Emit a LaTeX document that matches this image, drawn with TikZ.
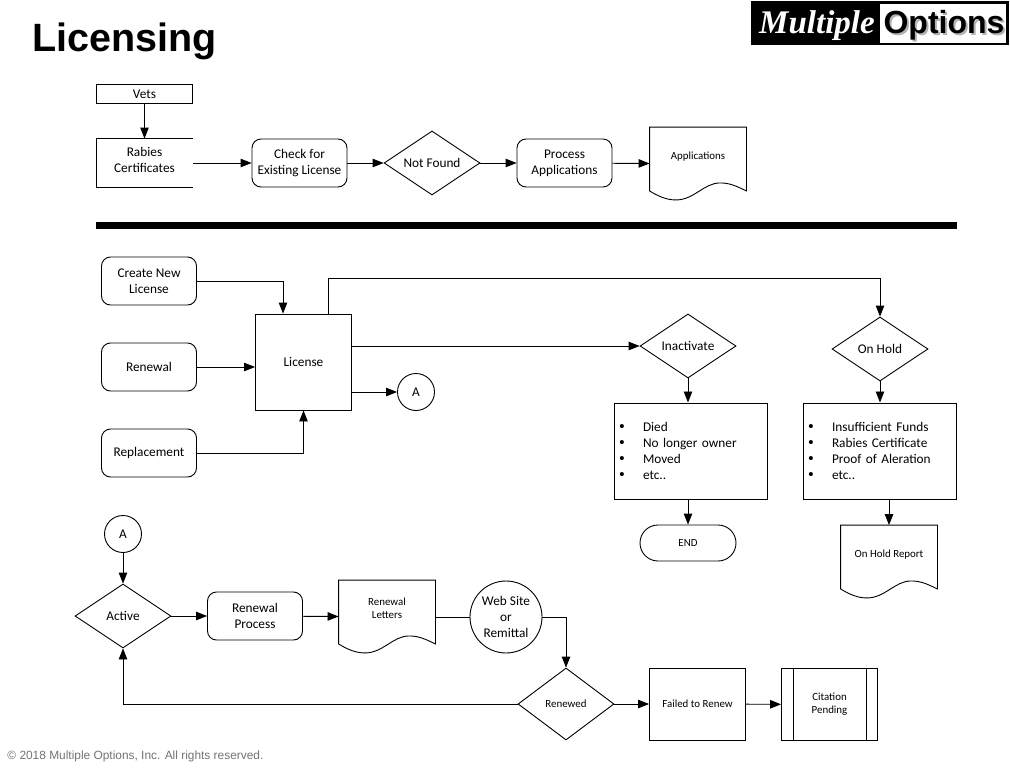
\documentclass[tikz,border=0pt]{standalone}
\usepackage{fontspec}
\setmainfont{Carlito}
\newfontfamily\arialfont{Liberation Sans}
\newfontfamily\timesfont{Liberation Serif}
\usetikzlibrary{positioning,shapes.geometric,arrows.meta}

\newcommand{\docoutline}[1]{\draw (#1.north west) -- (#1.north east) -- ([yshift=9pt]#1.south east) .. controls ([xshift=38pt,yshift=14pt]#1.south) and ([xshift=32pt,yshift=17pt]#1.south) .. ([xshift=22pt,yshift=17pt]#1.south) .. controls ([xshift=6pt,yshift=17pt]#1.south) and ([xshift=-4pt]#1.south) .. ([xshift=-22pt]#1.south) .. controls ([xshift=-32pt]#1.south) and ([xshift=-40pt,yshift=4pt]#1.south) .. ([yshift=9pt]#1.south west) -- cycle;}
\newcommand{\listdot}{\makebox[6pt][c]{\arialfont\fontsize{15}{16}\selectfont\smash{\textbullet}}\hspace{18pt}}

\begin{document}
\begin{tikzpicture}[x=1pt,y=-1pt,
	line width=0.9pt,
	arrowline/.style={-{Triangle[length=11pt,width=8.5pt]}},
	plainnode/.style={font=\fontsize{13.3}{16}\selectfont,align=center,inner sep=0pt},
	smallnode/.style={font=\fontsize{10.9}{13}\selectfont,align=center,inner sep=0pt},
	squarenode/.style={plainnode,draw,minimum width=96pt,minimum height=48pt},
	roundnode/.style={plainnode,draw,rounded corners=9pt,minimum width=95pt,minimum height=48pt},
	diamondnode/.style={plainnode,draw,diamond,aspect=1.5,minimum width=96pt,minimum height=64pt},
	circlenode/.style={plainnode,draw,circle,minimum size=37pt},
	listnode/.style={plainnode,draw,align=left,text width=143pt,inner xsep=5pt,minimum height=96pt,line width=1pt},
	docnode/.style={smallnode,minimum width=96pt,minimum height=72pt,text depth=16pt}]
	\useasboundingbox (0,0) rectangle (1010,768);

	\node[font=\arialfont\bfseries\fontsize{39.5}{40}\selectfont,inner sep=0pt,anchor=base west]	(title)	at (32,52)	{Licensing};
	\node[fill=black,minimum width=258pt,minimum height=44pt,inner sep=0pt]							(logo)	at (879.5,23.5)	{};
	\node[fill=white,minimum width=126pt,minimum height=39pt,inner sep=0pt]							(logow)	at (943,23.5)	{};
	\node[font=\timesfont\bfseries\itshape\fontsize{33}{33}\selectfont,text=white,inner sep=0pt]	(multiple)	at (817,25.5)	{Multiple};
	\node[font=\arialfont\bfseries\fontsize{32}{32}\selectfont,text=black!30,inner sep=0pt]			(optionss)	at (946,27)	{Options};
	\node[font=\arialfont\bfseries\fontsize{32}{32}\selectfont,inner sep=0pt]						(options)	at (944,25)	{Options};

	\node[squarenode,minimum height=19pt]		(vets)		at (144.5,94)	{Vets};
	\node[plainnode,minimum width=96pt,minimum height=48pt,text depth=6pt]	(rabies)	at (144.5,163)	{Rabies\\Certificates};
	\node[roundnode]							(check)		at (299.5,163)	{Check for\\Existing License};
	\node[diamondnode]							(notfound)	at (432,163)	{Not Found};
	\node[roundnode]							(process)	at (564.5,163)	{Process\\Applications};
	\node[docnode]								(apps)		at (698,163.5)	{Applications};
	\fill										(96,222) rectangle (957,229);

	\node[roundnode]							(create)	at (149,281)	{Create New\\License};
	\node[roundnode]							(renewal)	at (149,367)	{Renewal};
	\node[roundnode]							(replace)	at (149,453)	{Replacement};
	\node[squarenode,minimum height=96pt]		(license)	at (303.5,362)	{License};
	\node[circlenode]							(a1)		at (416,392)	{A};
	\node[diamondnode]							(inactive)	at (688,346)	{Inactivate};
	\node[diamondnode]							(onhold)	at (880,349)	{On Hold};
	\node[listnode]								(reasons)	at (690.5,451)	{\listdot Died\\\listdot No longer owner\\\listdot Moved\\\listdot etc..};
	\node[listnode]								(missing)	at (879.5,451)	{\listdot Insufficient Funds\\\listdot Rabies Certificate\\\listdot Proof of Aleration\\\listdot etc..};
	\node[smallnode,draw,rounded corners=18pt,minimum width=96pt,minimum height=36pt]	(end)	at (688,543)	{END};
	\node[docnode]								(report)	at (889,561.5)	{On Hold Report};

	\node[circlenode]							(a2)		at (123,534)	{A};
	\node[diamondnode]							(active)	at (123,616)	{Active};
	\node[roundnode]							(renproc)	at (255,616)	{Renewal\\Process};
	\node[docnode]								(letters)	at (387,616.5)	{Renewal\\Letters};
	\node[plainnode,draw,circle,minimum size=72pt]	(web)	at (506,617)	{Web Site\\or\\Remittal};
	\node[smallnode,draw,diamond,aspect=1.33,minimum width=96pt,minimum height=72pt]	(renewed)	at (566,704)	{Renewed};
	\node[smallnode,draw,minimum width=96pt,minimum height=72pt]	(failed)	at (697.5,704)	{Failed to Renew};
	\node[smallnode,draw,minimum width=96pt,minimum height=72pt]	(citation)	at (829.5,704.5)	{Citation\\Pending};

	\node[font=\arialfont\fontsize{11.9}{12}\selectfont,text=black!55,inner sep=0pt,anchor=base west]	(copyright)	at (7,759)	{© 2018 Multiple Options, Inc. All rights reserved.};

	\draw (rabies.north east) -- (rabies.north west) -- (rabies.south west) -- (rabies.south east);
	\docoutline{apps}
	\docoutline{report}
	\docoutline{letters}
	\draw ([xshift=12pt]citation.north west) -- ([xshift=12pt]citation.south west);
	\draw ([xshift=-12pt]citation.north east) -- ([xshift=-12pt]citation.south east);

	\draw[arrowline] (vets) -- (rabies);
	\draw[arrowline] (rabies) -- (check);
	\draw[arrowline] (check) -- (notfound);
	\draw[arrowline] (notfound) -- (process);
	\draw[arrowline] (process) -- (apps.west);
	\draw[arrowline] (create.east) -| ([xshift=-20.5pt]license.north);
	\draw[arrowline] (renewal.east) -- (renewal.east -| license.west);
	\draw[arrowline] (replace.east) -| (license.south);
	\draw[arrowline] (license.east |- inactive) -- (inactive.west);
	\draw[arrowline] ([xshift=24.5pt]license.north) -- ++(0,-35) -| (onhold.north);
	\draw[arrowline] (license.east |- a1) -- (a1.west);
	\draw[arrowline] (inactive) -- (inactive |- reasons.north);
	\draw[arrowline] (reasons.south -| end) -- (end.north);
	\draw[arrowline] (onhold) -- (onhold |- missing.north);
	\draw[arrowline] (missing.south -| report) -- (report.north);
	\draw[arrowline] (a2) -- (active);
	\draw[arrowline] (active) -- (renproc);
	\draw[arrowline] (renproc) -- (letters.west);
	\draw (letters.east |- web) -- (web.west);
	\draw[arrowline] (web.east) -| (renewed.north);
	\draw[arrowline] (renewed.west) -| (active.south);
	\draw[arrowline] (renewed) -- (failed);
	\draw[arrowline] (failed) -- (citation);
\end{tikzpicture}
\end{document}
